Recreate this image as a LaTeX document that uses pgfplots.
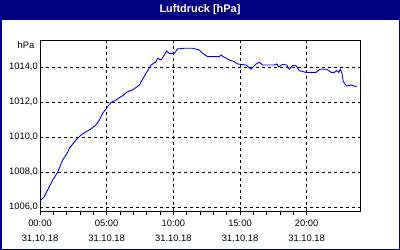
\documentclass[border=0pt]{standalone}
\usepackage{fontspec}
\setmainfont{Liberation Sans}
\usepackage{pgfplots}
\pgfplotsset{compat=1.18}
\definecolor{navy}{RGB}{0,0,128}
\definecolor{lineblue}{RGB}{0,0,255}
\begin{document}
\begin{tikzpicture}
\useasboundingbox (0,0) rectangle (400bp,250bp);
\fill[white] (0,0) rectangle (400bp,250bp);
\fill[navy] (0,230bp) rectangle (400bp,250bp);
\draw[navy, line width=1.5bp] (0.75bp,0.75bp) rectangle (399.25bp,249.25bp);
\node[white, font=\bfseries\fontsize{11}{12}\selectfont] at (200bp,240bp) {Luftdruck [hPa]};
\begin{axis}[
  at={(40bp,39bp)}, anchor=south west,
  scale only axis, width=320bp, height=171bp,
  xmin=0, xmax=24, ymin=1005.79, ymax=1015.56,
  axis line style={black, line width=1bp},
  grid=major,
  major grid style={black, line width=0.8bp, dash pattern=on 3bp off 3bp},
  xtick={0,5,10,15,20},
  xticklabels={{00:00\\31.10.18},{05:00\\31.10.18},{10:00\\31.10.18},{15:00\\31.10.18},{20:00\\31.10.18}},
  minor x tick num=4,
  xtick pos=left,
  ytick pos=left,
  tick align=outside,
  major tick length=4bp, minor tick length=4bp,
  xtick style={black, line width=0.8bp},
  ytick style={draw=none},
  ytick={1006,1008,1010,1012,1014},
  yticklabels={{1006,0},{1008,0},{1010,0},{1012,0},{1014,0}},
  xticklabel style={align=center, font=\fontsize{9.4}{15}\selectfont, inner sep=0pt, yshift=-5bp},
  yticklabel style={font=\fontsize{9.4}{11}\selectfont, inner sep=0pt, xshift=2bp},
  clip=true,
]
\addplot[lineblue, line width=0.9bp] table {
x y
0.00 1006.36
0.32 1006.61
0.95 1007.56
1.32 1008.00
1.70 1008.70
2.07 1009.14
2.20 1009.37
2.70 1009.85
3.08 1010.13
3.32 1010.26
3.70 1010.42
4.20 1010.70
4.45 1010.99
4.70 1011.37
5.07 1011.75
5.33 1012.00
5.70 1012.13
6.20 1012.38
6.57 1012.61
6.95 1012.70
7.45 1012.99
7.95 1013.66
8.33 1014.13
8.70 1014.32
8.82 1014.51
9.08 1014.42
9.32 1014.70
9.50 1014.93
9.70 1014.80
10.07 1014.80
10.32 1015.05
10.82 1015.09
11.45 1015.09
11.95 1014.99
12.20 1014.80
12.57 1014.61
13.45 1014.61
13.58 1014.70
13.82 1014.57
14.20 1014.42
14.57 1014.32
14.82 1014.19
15.45 1014.13
15.83 1013.90
16.20 1014.19
16.45 1014.29
16.70 1014.13
17.57 1014.13
17.75 1014.19
17.90 1014.03
18.20 1014.17
18.50 1014.13
18.70 1013.89
18.95 1014.11
19.20 1014.09
19.45 1013.81
19.95 1013.71
20.70 1013.71
21.00 1013.89
21.50 1013.89
21.83 1013.71
22.07 1013.71
22.25 1013.81
22.40 1013.71
22.52 1013.89
22.65 1013.66
22.75 1013.18
23.00 1012.93
23.33 1012.99
23.75 1012.89
};
\end{axis}
\node[font=\fontsize{9.4}{11}\selectfont] at (26bp,205bp) {hPa};
\end{tikzpicture}
\end{document}
